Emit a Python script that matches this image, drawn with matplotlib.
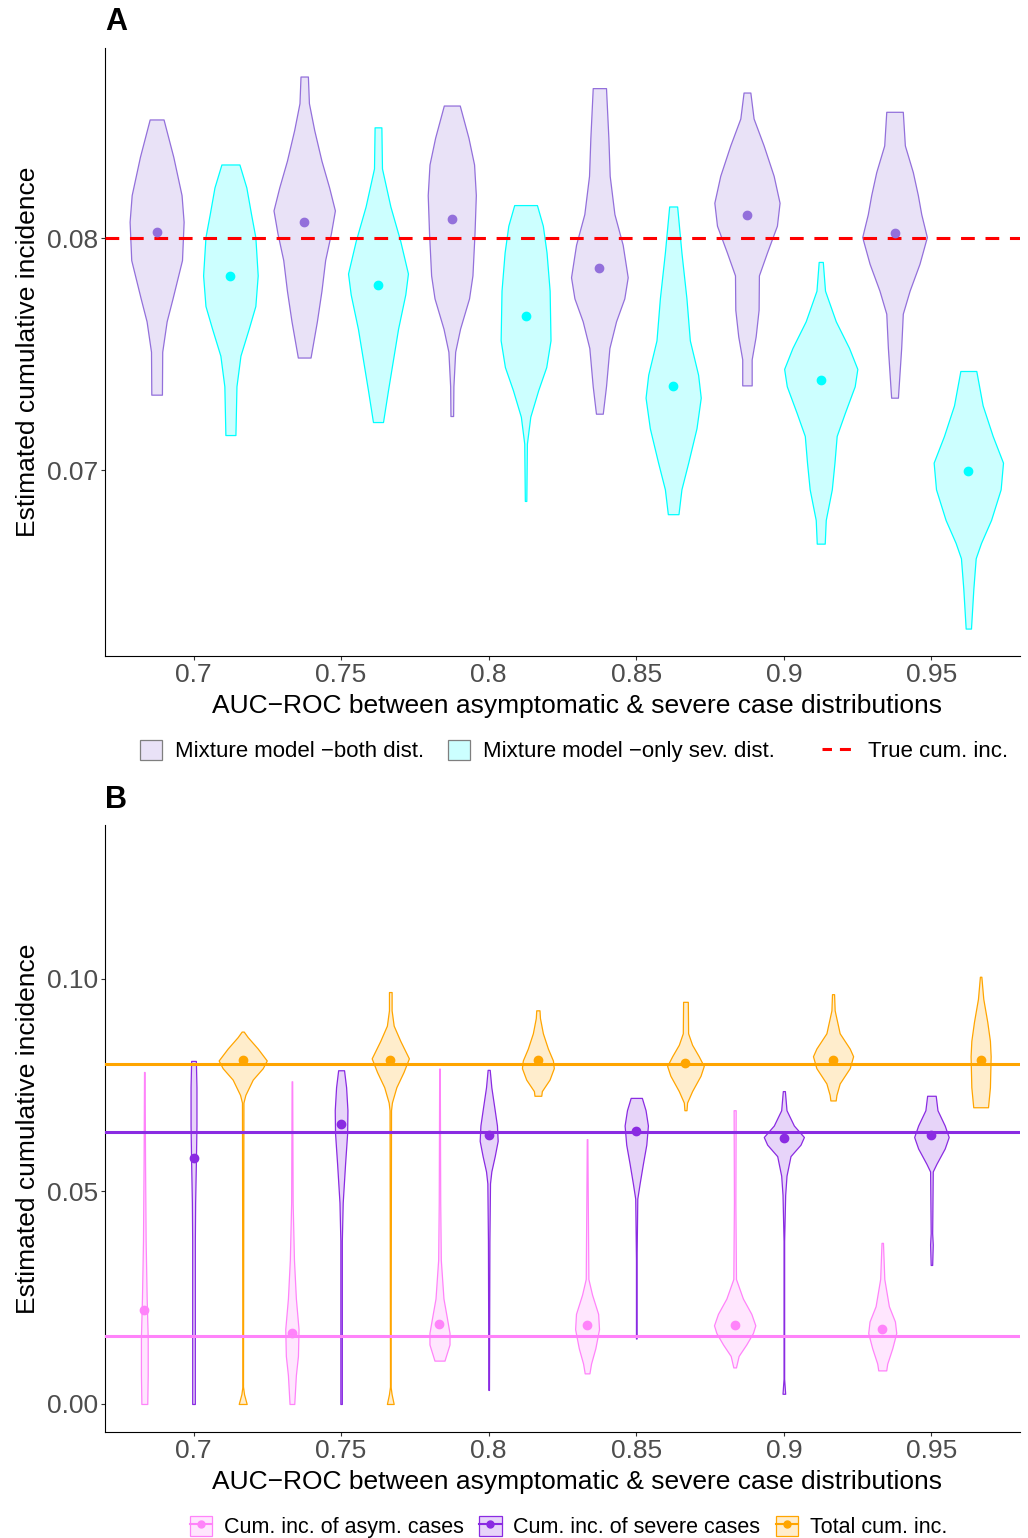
import numpy as np
import matplotlib
matplotlib.use("Agg")
import matplotlib.pyplot as plt
from matplotlib.colors import to_rgba
from matplotlib.patches import Patch
from matplotlib.lines import Line2D

plt.rcParams["font.family"] = ["Liberation Sans", "DejaVu Sans"]

auc_labels = ["0.7", "0.75", "0.8", "0.85", "0.9", "0.95"]

# ---- panel A: violin profiles (value, half-width in category units) ----
a_both_y = [
    [0.08512, 0.08351, 0.08186, 0.08071, 0.07906, 0.07741, 0.07642, 0.07511, 0.07326],
    [0.08697, 0.08582, 0.08466, 0.08334, 0.08219, 0.0812, 0.08021, 0.07906, 0.07774, 0.07642, 0.07486],
    [0.08572, 0.08433, 0.08318, 0.08186, 0.08021, 0.0784, 0.07741, 0.0761, 0.07511, 0.07362, 0.07234],
    [0.08647, 0.08433, 0.08269, 0.08104, 0.07972, 0.07832, 0.07741, 0.07642, 0.07527, 0.07362, 0.07244],
    [0.08628, 0.08516, 0.084, 0.08269, 0.08153, 0.08054, 0.07939, 0.0784, 0.07692, 0.07577, 0.07478, 0.07366],
    [0.08545, 0.084, 0.08285, 0.08186, 0.08104, 0.08005, 0.0789, 0.07774, 0.07675, 0.07527, 0.07313],
]
a_both_w = [
    [0.047, 0.113, 0.169, 0.183, 0.172, 0.108, 0.068, 0.038, 0.036],
    [0.025, 0.032, 0.068, 0.117, 0.169, 0.208, 0.181, 0.142, 0.117, 0.086, 0.043],
    [0.054, 0.113, 0.151, 0.163, 0.154, 0.140, 0.117, 0.056, 0.023, 0.011, 0.009],
    [0.045, 0.061, 0.070, 0.102, 0.158, 0.192, 0.169, 0.113, 0.068, 0.045, 0.023],
    [0.023, 0.045, 0.113, 0.181, 0.221, 0.203, 0.136, 0.081, 0.079, 0.059, 0.032, 0.032],
    [0.056, 0.070, 0.124, 0.158, 0.181, 0.219, 0.169, 0.102, 0.056, 0.045, 0.023],
]
a_both_med = [0.08025, 0.08071, 0.08084, 0.07871, 0.0810, 0.08021]

a_sev_y = [
    [0.08318, 0.08219, 0.08104, 0.08005, 0.0784, 0.07708, 0.0761, 0.07494, 0.07362, 0.07152],
    [0.08478, 0.08301, 0.08137, 0.07988, 0.07848, 0.07758, 0.0761, 0.07478, 0.07346, 0.07208],
    [0.08143, 0.08054, 0.07939, 0.07774, 0.0756, 0.07445, 0.07346, 0.07231, 0.07115, 0.06868],
    [0.08137, 0.07939, 0.07741, 0.0756, 0.07412, 0.07313, 0.07181, 0.07033, 0.06918, 0.06811],
    [0.07898, 0.07774, 0.07642, 0.07527, 0.07437, 0.07362, 0.07247, 0.07148, 0.07033, 0.06918, 0.06786, 0.06684],
    [0.07428, 0.0728, 0.07148, 0.07033, 0.06918, 0.06786, 0.06687, 0.06621, 0.06489, 0.06318],
]
a_sev_w = [
    [0.061, 0.108, 0.140, 0.169, 0.185, 0.169, 0.124, 0.068, 0.041, 0.034],
    [0.023, 0.027, 0.084, 0.151, 0.203, 0.185, 0.136, 0.102, 0.068, 0.034],
    [0.077, 0.117, 0.142, 0.163, 0.169, 0.140, 0.086, 0.032, 0.009, 0.005],
    [0.027, 0.056, 0.090, 0.113, 0.169, 0.187, 0.158, 0.102, 0.056, 0.036],
    [0.014, 0.029, 0.102, 0.192, 0.248, 0.230, 0.163, 0.108, 0.093, 0.075, 0.034, 0.027],
    [0.054, 0.097, 0.165, 0.235, 0.219, 0.154, 0.086, 0.050, 0.034, 0.018],
]
a_sev_med = [0.07837, 0.07797, 0.07666, 0.07362, 0.0739, 0.06995]
true_cum_inc = 0.08

# ---- panel B ----
b_asym_y = [
    [0.0781, 0.0565, 0.0384, 0.0248, 0.0158, 0.0068, 0.0],
    [0.0759, 0.0474, 0.0339, 0.0248, 0.0176, 0.0113, 0.0068, 0.0],
    [0.0789, 0.0474, 0.0339, 0.0248, 0.0203, 0.0167, 0.014, 0.0102],
    [0.0623, 0.0474, 0.0294, 0.0257, 0.0212, 0.0176, 0.0131, 0.0095, 0.0072],
    [0.0691, 0.0474, 0.0294, 0.0248, 0.0212, 0.0185, 0.0167, 0.014, 0.0113, 0.0086],
    [0.0379, 0.0294, 0.023, 0.0194, 0.0167, 0.0131, 0.0095, 0.0079],
]
b_asym_w = [
    [0.002, 0.005, 0.009, 0.016, 0.023, 0.023, 0.020],
    [0.002, 0.005, 0.014, 0.027, 0.045, 0.041, 0.027, 0.016],
    [0.002, 0.005, 0.009, 0.027, 0.050, 0.068, 0.068, 0.034],
    [0.002, 0.005, 0.009, 0.034, 0.075, 0.081, 0.056, 0.027, 0.016],
    [0.007, 0.005, 0.009, 0.056, 0.113, 0.140, 0.124, 0.079, 0.027, 0.009],
    [0.005, 0.014, 0.045, 0.086, 0.095, 0.068, 0.034, 0.027],
]
b_asym_med = [0.0221, 0.0167, 0.0188, 0.0185, 0.0185, 0.0176]

b_sev_y = [
    [0.0807, 0.0745, 0.0655, 0.0565, 0.0474, 0.0384, 0.0203, 0.0],
    [0.0785, 0.0745, 0.0691, 0.0637, 0.0565, 0.0474, 0.0384, 0.0],
    [0.0786, 0.0745, 0.0691, 0.0655, 0.0619, 0.0583, 0.0547, 0.0519, 0.0384, 0.0033],
    [0.072, 0.0691, 0.0655, 0.061, 0.0565, 0.0519, 0.0483, 0.0339, 0.0154],
    [0.0736, 0.0691, 0.0655, 0.0628, 0.061, 0.0583, 0.0537, 0.0492, 0.0384, 0.0059, 0.0024],
    [0.0725, 0.0691, 0.0655, 0.0628, 0.0601, 0.0565, 0.0547, 0.0402, 0.0375, 0.0327],
]
b_sev_w = [
    [0.016, 0.020, 0.020, 0.016, 0.011, 0.009, 0.009, 0.009],
    [0.020, 0.034, 0.043, 0.041, 0.027, 0.011, 0.005, 0.005],
    [0.007, 0.018, 0.041, 0.056, 0.061, 0.041, 0.018, 0.009, 0.005, 0.002],
    [0.038, 0.063, 0.079, 0.068, 0.045, 0.023, 0.007, 0.002, 0.002],
    [0.007, 0.018, 0.068, 0.136, 0.113, 0.045, 0.018, 0.009, 0.002, 0.002, 0.009],
    [0.029, 0.041, 0.090, 0.117, 0.090, 0.034, 0.009, 0.005, 0.009, 0.005],
]
b_sev_med = [0.0579, 0.0659, 0.0632, 0.0641, 0.0625, 0.0632]

b_tot_y = [
    [0.0876, 0.0863, 0.0836, 0.0808, 0.079, 0.0763, 0.0727, 0.0709, 0.0041, 0.0023, 0.0],
    [0.0969, 0.0926, 0.089, 0.0854, 0.0813, 0.0781, 0.0745, 0.0709, 0.0691, 0.0041, 0.0023, 0.0],
    [0.0926, 0.0908, 0.0872, 0.0836, 0.0808, 0.079, 0.0763, 0.0736, 0.0725],
    [0.0946, 0.0872, 0.0845, 0.0818, 0.0795, 0.0772, 0.0736, 0.0709, 0.0691],
    [0.0964, 0.0926, 0.0872, 0.0836, 0.0818, 0.079, 0.0754, 0.0727, 0.0714],
    [0.1005, 0.0953, 0.0899, 0.0854, 0.0818, 0.0745, 0.0698],
]
b_tot_w = [
    [0.007, 0.034, 0.102, 0.163, 0.136, 0.068, 0.018, 0.005, 0.002, 0.009, 0.027],
    [0.009, 0.009, 0.023, 0.068, 0.126, 0.090, 0.041, 0.011, 0.005, 0.002, 0.009, 0.023],
    [0.011, 0.014, 0.034, 0.068, 0.102, 0.108, 0.079, 0.027, 0.023],
    [0.016, 0.018, 0.045, 0.090, 0.124, 0.102, 0.045, 0.011, 0.007],
    [0.007, 0.011, 0.045, 0.113, 0.136, 0.113, 0.045, 0.023, 0.018],
    [0.005, 0.018, 0.045, 0.063, 0.068, 0.063, 0.050],
]
b_tot_med = [0.0810, 0.0810, 0.0810, 0.0803, 0.0810, 0.0810]

true_asym, true_sev, true_tot = 0.016, 0.064, 0.08

C_BOTH, C_ONLY = "#9370DB", "#00FFFF"
C_ASYM, C_SEV, C_TOT = "#FF83FA", "#8A2BE2", "#FFA500"
TICK_GRAY = "#4D4D4D"


def violin(ax, pos, ys, ws, color, med):
    ys = np.asarray(ys)
    ws = np.asarray(ws)
    ax.fill_betweenx(ys, pos - ws, pos + ws, facecolor=to_rgba(color, 0.2),
                     edgecolor=color, linewidth=0.9, zorder=2)
    ax.plot(pos, med, "o", color=color, markersize=6, zorder=5)


def style(ax):
    for s in ("top", "right"):
        ax.spines[s].set_visible(False)
    ax.tick_params(axis="both", labelsize=19, colors="#333333", labelcolor=TICK_GRAY,
                   length=3, width=0.8, pad=2)
    ax.set_xticks(range(len(auc_labels)))
    ax.set_xticklabels(auc_labels)
    ax.set_xlim(-0.6, len(auc_labels) - 0.4)
    ax.set_xlabel("AUC\u2212ROC between asymptomatic & severe case distributions",
                  fontsize=19)
    ax.xaxis.set_label_coords(0.516, -0.063)
    ax.set_ylabel("Estimated cumulative incidence", fontsize=19, labelpad=5)


fig = plt.figure(figsize=(10.28, 15.38), dpi=100)
axA = fig.add_axes([0.1021, 0.5735, 0.8901, 0.3953])
axB = fig.add_axes([0.1021, 0.0689, 0.8901, 0.3947])

# Panel A
for i in range(len(auc_labels)):
    violin(axA, i - 0.25, a_both_y[i], a_both_w[i], C_BOTH, a_both_med[i])
    violin(axA, i + 0.25, a_sev_y[i], a_sev_w[i], C_ONLY, a_sev_med[i])
axA.axhline(true_cum_inc, color="red", linestyle=(0, (4.5, 3.5)), linewidth=2.2, zorder=4)
axA.set_ylim(0.0620, 0.0882)
axA.set_yticks([0.07, 0.08])
axA.set_yticklabels(["0.07", "0.08"])
style(axA)

# Panel B
off = 1 / 3
for i in range(len(auc_labels)):
    violin(axB, i - off, b_asym_y[i], b_asym_w[i], C_ASYM, b_asym_med[i])
    violin(axB, i, b_sev_y[i], b_sev_w[i], C_SEV, b_sev_med[i])
    violin(axB, i + off, b_tot_y[i], b_tot_w[i], C_TOT, b_tot_med[i])
axB.axhline(true_tot, color=C_TOT, linewidth=2.2, zorder=4)
axB.axhline(true_sev, color=C_SEV, linewidth=2.2, zorder=4)
axB.axhline(true_asym, color=C_ASYM, linewidth=2.2, zorder=4)
axB.set_ylim(-0.0066, 0.1362)
axB.set_yticks([0.0, 0.05, 0.10])
axB.set_yticklabels(["0.00", "0.05", "0.10"])
style(axB)

fig.text(0.102, 0.9857, "A", fontsize=22, fontweight="bold", ha="left", va="center")
fig.text(0.102, 0.4798, "B", fontsize=22, fontweight="bold", ha="left", va="center")

# Legends
hA = [Patch(facecolor=to_rgba(C_BOTH, 0.2), edgecolor="#7F7F7F", linewidth=0.9),
      Patch(facecolor=to_rgba(C_ONLY, 0.2), edgecolor="#7F7F7F", linewidth=0.9)]
lA = ["Mixture model \u2212both dist.", "Mixture model \u2212only sev. dist."]
fig.legend(hA, lA, loc="center left", bbox_to_anchor=(140 / 1028, 0.5117), ncol=2,
           frameon=False, fontsize=16, handlelength=1.0, handleheight=1.0,
           columnspacing=1.05, handletextpad=0.58, borderpad=0, borderaxespad=0)
fig.legend([Line2D([], [], color="red", linestyle=(0.5, (3.6, 2.6)), linewidth=2.2)],
           ["True cum. inc."], loc="center left", bbox_to_anchor=(822 / 1028, 0.5117),
           frameon=False, fontsize=16, handlelength=1.5, handletextpad=0.55,
           borderpad=0, borderaxespad=0)

hB = []
for c in (C_ASYM, C_SEV, C_TOT):
    hB.append((Patch(facecolor=to_rgba(c, 0.2), edgecolor=c, linewidth=0.9),
               Line2D([], [], color=c, linewidth=1.5, marker="o", markersize=5)))
lB = ["Cum. inc. of asym. cases", "Cum. inc. of severe cases", "Total cum. inc."]
fig.legend(hB, lB, loc="center", bbox_to_anchor=(0.553, 0.0072), ncol=3,
           frameon=False, fontsize=15.5, handlelength=1.05, handleheight=1.05,
           columnspacing=0.7, handletextpad=0.55)

fig.savefig("out.png", dpi=100)
